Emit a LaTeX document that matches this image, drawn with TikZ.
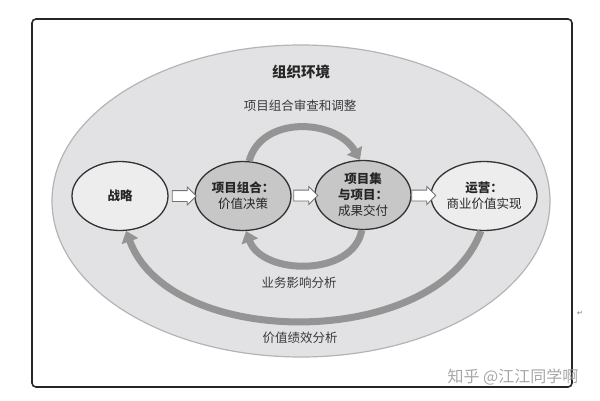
\documentclass[tikz,border=0pt]{standalone}
\usepackage{fontspec}
\setmainfont{Noto Sans CJK SC}
\newfontfamily\symfont{DejaVu Sans}
\usetikzlibrary{arrows.meta,shapes.geometric,shapes.arrows,calc}

\definecolor{envgray}{HTML}{E2E2E4}
\definecolor{envline}{HTML}{B4B4B6}
\definecolor{flowgray}{HTML}{949494}
\definecolor{textgray}{HTML}{3A3A3A}

\begin{document}
\begin{tikzpicture}[
        x=1pt, y=1pt,
        stage/.style={
            ellipse,
            draw=black!80,
            line width=1.3pt,
            minimum width=96pt,
            minimum height=69pt,
            inner sep=0pt,
            align=center,
            text=black!85,
            font=\fontsize{12.5}{16}\selectfont
        },
        light/.style={stage, fill=black!7},
        dark/.style={stage, fill=black!22},
        hollow/.style={
            single arrow,
            draw=black!55,
            fill=white,
            line width=0.8pt,
            minimum height=24pt,
            inner xsep=0pt,
            inner ysep=5pt,
            single arrow head extend=3.5pt
        },
        flow/.style={
            draw=flowgray,
            line width=7pt,
            -{Triangle[width=17pt,length=11pt]}
        },
        label/.style={text=textgray, font=\fontsize{12.5}{15}\selectfont}
    ]

    \useasboundingbox (0,0) rectangle (600,400);

    \draw[black!85, line width=1.6pt, rounded corners=4pt] (32,13) rectangle (572,381);

    \node[ellipse, fill=envgray, draw=envline, line width=1.2pt,
          minimum width=498pt, minimum height=312pt] (env) at (301,199) {};

    \node[font=\fontsize{14.5}{17}\selectfont\bfseries, text=black!85] (title) at (301,328) {组织环境};

    \node[light] (s1) at (120,204) {\textbf{战略}};
    \node[dark]  (s2) at (243,204) {\textbf{项目组合：}\\价值决策};
    \node[dark]  (s3) at (363,205) {\textbf{项目集}\\\textbf{与项目：}\\成果交付};
    \node[light] (s4) at (484,204) {\textbf{运营：}\\商业价值实现};

    \node[hollow] (a1) at ($(s1.east)!0.5!(s2.west)$) {};
    \node[hollow] (a2) at ($(s2.east)!0.5!(s3.west)$) {};
    \node[hollow] (a3) at ($(s3.east)!0.5!(s4.west)$) {};

    \draw[flow] (s2.80) to[out=75, in=120, looseness=1.1] (s3.95);
    \draw[flow] (s3.-92) to[out=-100, in=-70, looseness=1.05] (s2.-85);
    \draw[flow] (s4.-95) to[out=-110, in=-70, looseness=0.92] (s1.-80);

    \node[label] (review) at (300,294) {项目组合审查和调整};
    \node[label] (impact) at (299,117) {业务影响分析};
    \node[label] (perf)   at (300,62)  {价值绩效分析};

    \node[text=black!35, font=\fontsize{16}{18}\selectfont] (mark) at (513,23) {知乎 @江江同学啊};
    \node[text=black!55, font=\symfont\fontsize{7}{8}\selectfont] (ret) at (580,87) {↵};

    \end{tikzpicture}
\end{document}
